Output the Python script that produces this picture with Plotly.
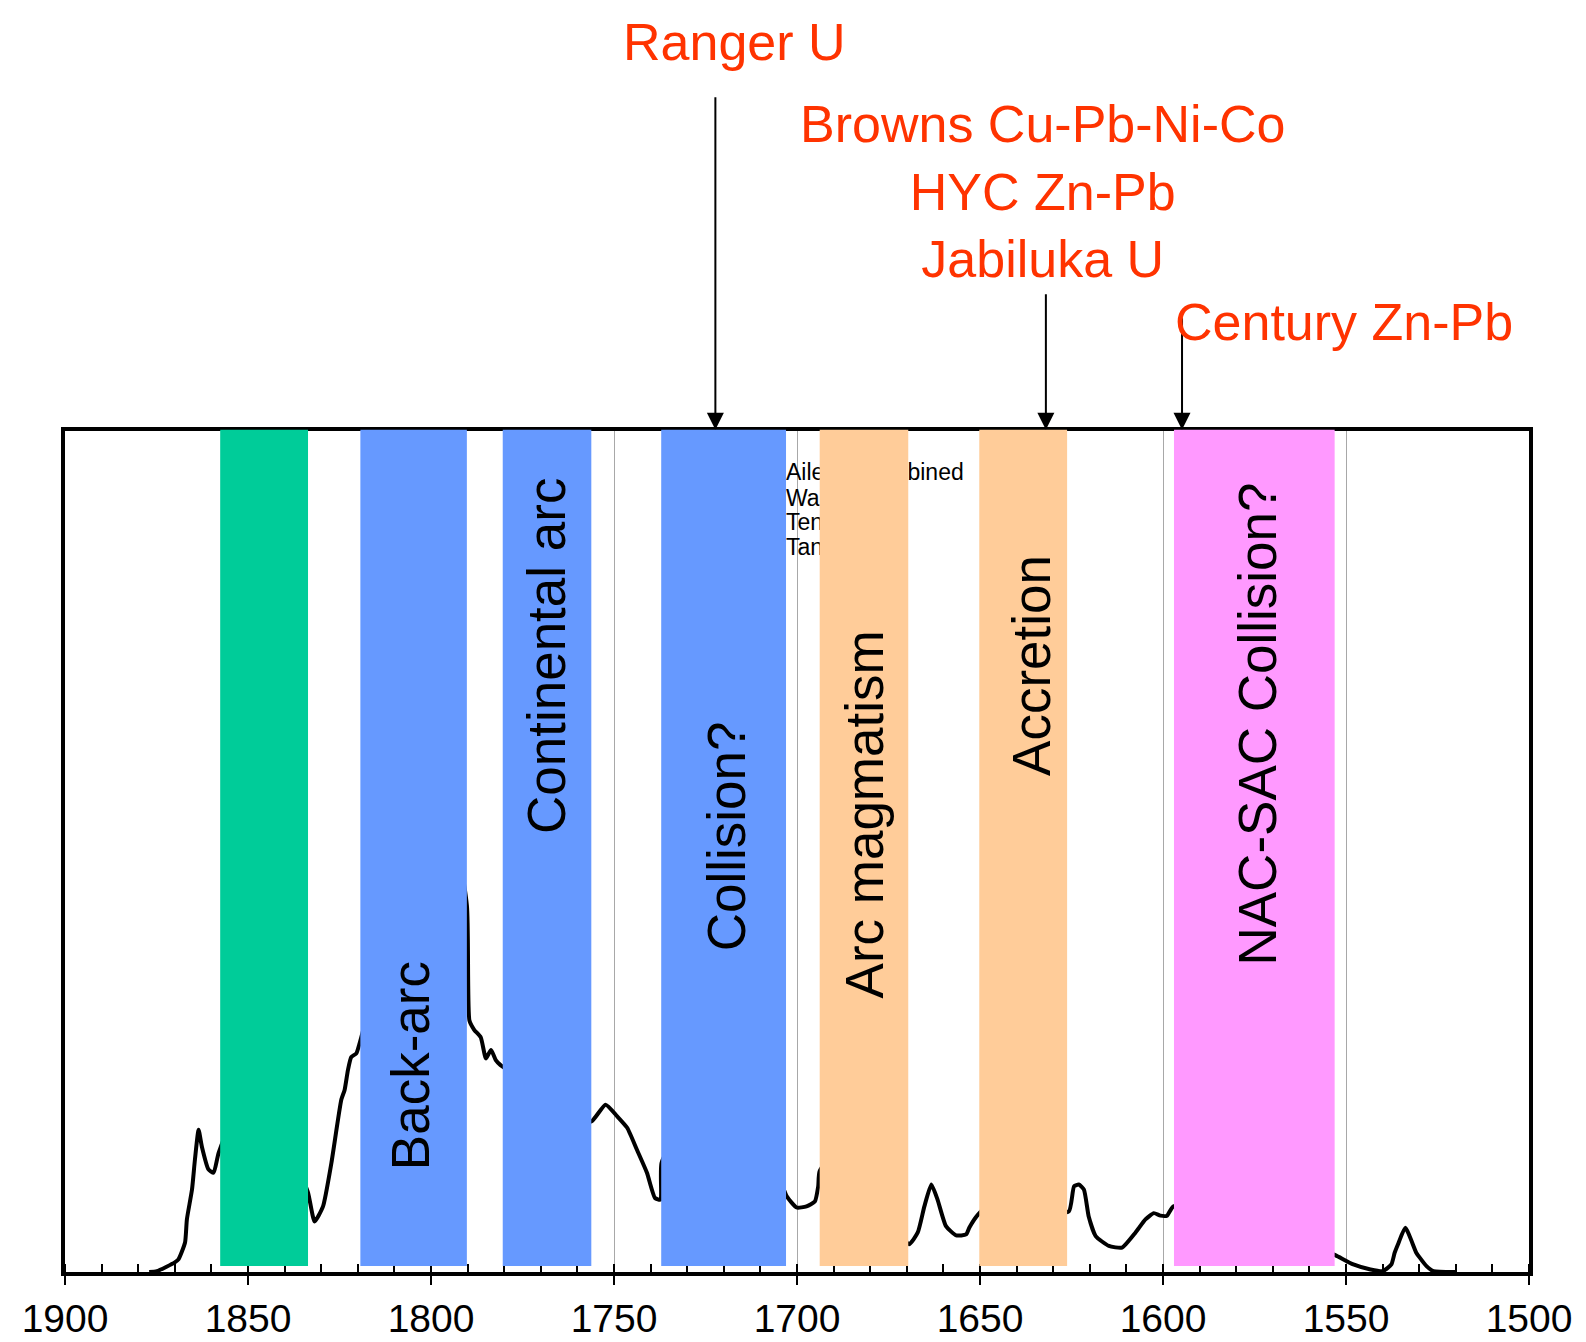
import plotly.graph_objects as go

# ---------------- data ----------------
# age density curve (Ma, relative probability)
curve_age = [1877, 1874.9, 1870.0, 1869.0, 1867.2, 1866.7, 1865.3, 1864.5, 1863.5, 1862.6, 1860.8, 1859.4, 1858.0,
             1850, 1842, 1836,
             1833.6, 1831.8, 1829.5, 1827.2, 1824.5, 1823.6, 1822.7, 1821.8, 1820.4, 1819.5,
             1812, 1803, 1795,
             1790.2, 1789.5, 1788.2, 1786.4, 1785.0, 1783.6, 1782.3, 1781.0,
             1772, 1763,
             1756.2, 1752.3, 1749.1, 1746.4, 1743.7, 1741.0, 1738.8, 1737.3, 1737.0,
             1728, 1718, 1708,
             1702.8, 1700.1, 1697.4, 1695.1, 1694.2, 1693.8,
             1685, 1676,
             1669.4, 1667.0, 1665.2, 1663.3, 1661.6, 1659.3, 1656.5, 1653.8, 1652.9, 1650.6,
             1642, 1632,
             1625.7, 1624.3, 1623.0, 1621.6, 1620.3, 1618.4, 1614.8, 1611.2, 1607.5, 1604.8, 1602.5, 1600.7,
             1598.9, 1597.2,
             1585, 1570, 1558,
             1552.8, 1548.0, 1543.3, 1539.9, 1537.6, 1536.7, 1535.7, 1533.8, 1530.8, 1529.9, 1528.0, 1526.1, 1520]
curve_density = [0, 0.001, 0.0115, 0.015, 0.035, 0.0625, 0.098, 0.1336, 0.169, 0.149, 0.122, 0.118, 0.142,
                 0.22, 0.18, 0.12,
                 0.0945, 0.060, 0.078, 0.130, 0.205, 0.2165, 0.240, 0.2556, 0.260, 0.272,
                 0.40, 0.60, 0.55,
                 0.436, 0.299, 0.288, 0.279, 0.254, 0.264, 0.252, 0.246,
                 0.22, 0.18,
                 0.179, 0.199, 0.185, 0.1715, 0.145, 0.118, 0.088, 0.086, 0.130,
                 0.20, 0.24, 0.15,
                 0.090, 0.0767, 0.078, 0.084, 0.102, 0.12,
                 0.16, 0.09,
                 0.033, 0.047, 0.078, 0.104, 0.086, 0.0545, 0.0435, 0.0447, 0.053, 0.068,
                 0.10, 0.07,
                 0.0723, 0.102, 0.104, 0.098, 0.066, 0.0427, 0.031, 0.029, 0.047, 0.0625, 0.070, 0.067,
                 0.067, 0.078,
                 0.08, 0.05, 0.03,
                 0.0198, 0.009, 0.003, 0.001, 0.009, 0.023, 0.034, 0.0526, 0.023, 0.0174, 0.007, 0.001, 0]

# tectonic event bands
band_start = [1857.6, 1819.3, 1780.4, 1737.1, 1693.8, 1650.2, 1597.0]
band_end = [1833.6, 1790.2, 1756.2, 1703.0, 1669.6, 1626.2, 1553.1]
band_label = ["", "Back-arc", "Continental arc", "Collision?", "Arc magmatism", "Accretion", "NAC-SAC Collision?"]
band_color = ["#00CC99", "#6699FF", "#6699FF", "#6699FF", "#FFCC99", "#FFCC99", "#FF99FF"]
band_label_age = [1845.6, 1805.4, 1768.4, 1719.4, 1681.5, 1636.0, 1574.2]
band_label_y = [0.5, 0.245, 0.732, 0.518, 0.5437, 0.721, 0.6515]

# deposits (arrows)
deposit_age = [1722.3, 1632.0, 1594.8]
deposit_text = ["Ranger U", "Browns Cu-Pb-Ni-Co<br>HYC Zn-Pb<br>Jabiluka U", "Century Zn-Pb"]
deposit_arrow_len = [334, 137, 113]
deposit_label_age = [1717.2, 1632.8, 1550.5]
deposit_label_y = [1.462, 1.2845, 1.13]

# hidden legend entries
legend_names = ["Aileron combined", "Warumpi", "Tennant", "Tanami"]
legend_y = [0.948, 0.918, 0.889, 0.859]

tick_vals = [1900, 1850, 1800, 1750, 1700, 1650, 1600, 1550, 1500]

FONT = "Liberation Sans, Arial, sans-serif"
RED = "#FF3300"

fig = go.Figure()

fig.add_trace(go.Scatter(
    x=curve_age, y=curve_density, mode="lines",
    line=dict(color="black", width=4, shape="spline", smoothing=0.5),
    showlegend=False, hoverinfo="skip"))

fig.add_trace(go.Scatter(
    x=[1703.0] * len(legend_names), y=legend_y, mode="text", text=legend_names,
    textposition="middle right", textfont=dict(family=FONT, size=23, color="black"),
    showlegend=False, hoverinfo="skip"))

# invisible trace to carry the overlay axis (inner part of major ticks)
fig.add_trace(go.Scatter(x=[tick_vals[0], tick_vals[-1]], y=[None, None], xaxis="x2",
                         mode="lines", showlegend=False, hoverinfo="skip"))

shapes = []
for s, e, c in zip(band_start, band_end, band_color):
    shapes.append(dict(type="rect", xref="x", yref="paper", x0=s, x1=e, y0=0.0071, y1=1.0016,
                       fillcolor=c, line=dict(width=0), layer="above"))

annotations = []
for lbl, ax_, ay_ in zip(band_label, band_label_age, band_label_y):
    if not lbl:
        continue
    annotations.append(dict(x=ax_, y=ay_, xref="x", yref="paper", text=lbl, textangle=-90,
                            showarrow=False, xanchor="center", yanchor="middle",
                            font=dict(family=FONT, size=53, color="black")))

# arrows
for a, L in zip(deposit_age, deposit_arrow_len):
    annotations.append(dict(x=a, y=1.0016, xref="x", yref="paper", text="", showarrow=True,
                            ax=0, ay=-L, arrowhead=2, arrowsize=1.7, arrowwidth=2,
                            arrowcolor="black"))

# deposit labels
for t, lx, ly in zip(deposit_text, deposit_label_age, deposit_label_y):
    annotations.append(dict(x=lx, y=ly, xref="x", yref="paper", text=t, showarrow=False,
                            xanchor="center", yanchor="middle",
                            font=dict(family=FONT, size=52, color=RED)))

fig.update_layout(
    width=1578, height=1336,
    margin=dict(l=57, r=57, t=423, b=72, pad=0, autoexpand=False),
    paper_bgcolor="white", plot_bgcolor="white",
    shapes=shapes, annotations=annotations,
    showlegend=False,
    xaxis2=dict(overlaying="x", side="bottom", range=[1900, 1500], tickvals=tick_vals,
                ticks="inside", ticklen=7, tickwidth=2, tickcolor="black",
                showticklabels=False, showgrid=False, showline=False, zeroline=False,
                automargin=False),
)

fig.update_xaxes(
    selector=dict(anchor="y"),
)
fig.layout.xaxis.update(
    range=[1900, 1500], tickvals=tick_vals, ticktext=[str(v) for v in tick_vals],
    ticks="outside", ticklen=9, tickwidth=2, tickcolor="black",
    tickfont=dict(family=FONT, size=39, color="black"), ticklabelstandoff=0,
    showline=True, linewidth=3.5, linecolor="black", mirror=True, automargin=False,
    showgrid=True, gridcolor="#A8A8A8", gridwidth=1, zeroline=False,
    minor=dict(dtick=10, tick0=1900, ticks="inside", ticklen=8, tickwidth=2, tickcolor="black", showgrid=False),
)
fig.layout.yaxis.update(
    range=[0, 1], showticklabels=False, ticks="", showgrid=False, zeroline=False,
    showline=True, linewidth=3.5, linecolor="black", mirror=True, automargin=False,
)

fig.write_html("out.html")
